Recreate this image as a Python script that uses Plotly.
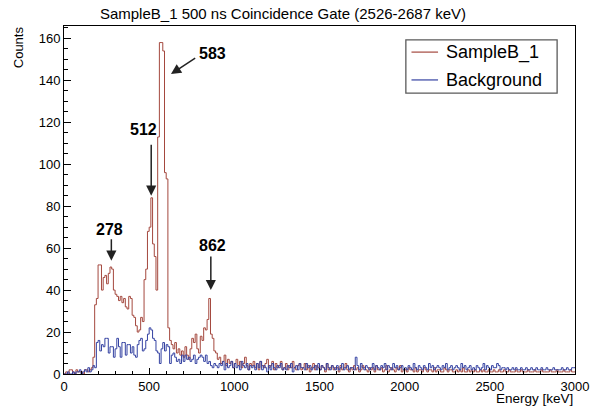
import numpy as np
import plotly.graph_objects as go

# Histogram binning (keV)
bin_width = 10
e_min, e_max = 0, 3000

# Counts per 10 keV bin, 0-3000 keV
sample_counts = [
    0, 1, 0, 2, 2, 1, 0, 2, 1, 1,
    1, 0, 2, 2, 1, 2, 3, 8, 33, 36,
    52, 52, 40, 46, 47, 43, 48, 51, 50, 40,
    38, 37, 35, 37, 34, 36, 32, 31, 37, 36,
    28, 27, 23, 20, 21, 27, 25, 45, 50, 68,
    70, 84, 62, 56, 40, 113, 158, 158, 154, 96,
    93, 22, 16, 14, 12, 15, 10, 12, 9, 11,
    8, 13, 9, 7, 12, 17, 15, 19, 12, 10,
    18, 16, 22, 21, 26, 36, 19, 17, 11, 10,
    7, 8, 5, 6, 9, 4, 7, 5, 6, 3,
    5, 7, 4, 6, 3, 5, 8, 4, 2, 5,
    4, 6, 3, 5, 2, 6, 4, 3, 5, 7,
    3, 4, 6, 2, 5, 3, 4, 6, 2, 3,
    5, 2, 4, 3, 6, 3, 2, 4, 5, 2,
    3, 5, 2, 4, 1, 3, 5, 2, 4, 3,
    2, 4, 3, 1, 5, 2, 3, 4, 2, 3,
    3, 1, 4, 2, 3, 5, 2, 1, 3, 2,
    4, 2, 3, 1, 2, 4, 3, 2, 1, 3,
    2, 3, 1, 4, 2, 2, 3, 1, 2, 4,
    1, 2, 3, 2, 1, 3, 2, 4, 1, 2,
    2, 1, 3, 2, 2, 1, 3, 1, 2, 2,
    1, 3, 2, 1, 2, 2, 1, 3, 1, 2,
    2, 1, 1, 3, 2, 1, 2, 2, 1, 1,
    2, 1, 2, 1, 3, 1, 1, 2, 1, 2,
    1, 2, 1, 1, 2, 1, 2, 1, 1, 2,
    1, 1, 2, 1, 1, 2, 1, 1, 2, 1,
    1, 2, 1, 1, 1, 2, 1, 1, 2, 1,
    1, 1, 2, 1, 1, 1, 2, 1, 1, 1,
    2, 1, 1, 1, 1, 2, 1, 1, 1, 2,
    1, 1, 1, 2, 1, 1, 1, 2, 1, 1,
]

background_counts = [
    0, 0, 1, 0, 0, 1, 0, 1, 1, 2,
    0, 1, 2, 1, 3, 1, 2, 4, 3, 15,
    16, 11, 14, 13, 17, 17, 10, 13, 13, 8,
    12, 17, 13, 8, 15, 15, 9, 14, 14, 10,
    13, 9, 8, 14, 16, 17, 11, 12, 16, 19,
    22, 21, 17, 16, 11, 10, 5, 12, 15, 11,
    14, 13, 5, 9, 10, 8, 6, 7, 5, 9,
    6, 9, 7, 8, 6, 7, 9, 5, 7, 8,
    9, 8, 6, 9, 5, 6, 4, 3, 5, 4,
    3, 5, 4, 6, 2, 5, 3, 4, 6, 3,
    5, 3, 4, 2, 6, 4, 3, 5, 2, 4,
    3, 4, 2, 5, 3, 6, 2, 4, 3, 1,
    4, 2, 5, 3, 2, 4, 3, 5, 2, 3,
    2, 4, 3, 5, 1, 3, 4, 2, 5, 3,
    3, 2, 5, 3, 4, 2, 3, 4, 2, 5,
    2, 4, 3, 2, 5, 3, 2, 4, 3, 2,
    4, 2, 3, 5, 2, 3, 4, 2, 3, 3,
    2, 8, 4, 2, 5, 3, 2, 4, 3, 2,
    3, 5, 2, 4, 3, 2, 4, 3, 5, 2,
    4, 3, 2, 5, 3, 4, 2, 3, 4, 2,
    3, 2, 4, 3, 2, 5, 3, 2, 4, 3,
    2, 4, 3, 2, 5, 3, 4, 2, 3, 4,
    3, 2, 4, 3, 5, 2, 3, 4, 2, 3,
    4, 3, 2, 5, 3, 4, 2, 3, 4, 2,
    3, 2, 4, 3, 2, 3, 5, 2, 4, 3,
    2, 4, 3, 3, 5, 4, 2, 3, 3, 2,
    3, 2, 2, 3, 2, 3, 2, 2, 3, 2,
    2, 3, 2, 2, 3, 2, 2, 3, 2, 2,
    3, 2, 2, 3, 2, 2, 2, 3, 2, 2,
    2, 2, 3, 2, 2, 3, 2, 2, 3, 3,
]

# Peak labels (keV)
peak_labels = ["278", "512", "583", "862"]
peak_energies = [278, 512, 583, 862]

title_text = "SampleB_1 500 ns Coincidence Gate (2526-2687 keV)"
series_names = ["SampleB_1", "Background"]
series_colors = ["#a4483e", "#3442a2"]

edges = np.arange(e_min, e_max + bin_width, bin_width)


def step_trace(counts, name, color):
    y = list(counts) + [counts[-1]]
    return go.Scatter(
        x=edges, y=y, mode="lines", name=name, showlegend=False,
        line=dict(color=color, width=1, shape="hv"),
        hoverinfo="skip",
    )


fig = go.Figure()
fig.add_trace(step_trace(sample_counts, series_names[0], series_colors[0]))
fig.add_trace(step_trace(background_counts, series_names[1], series_colors[1]))

y_max = 1.05 * max(sample_counts)

font_family = "Liberation Sans, Arial, sans-serif"

fig.update_layout(
    width=592, height=406,
    margin=dict(l=64, r=17, t=26, b=32),
    paper_bgcolor="white", plot_bgcolor="white",
    font=dict(family=font_family, size=13, color="black"),
    title=dict(text=title_text, x=0.478, xanchor="center",
               y=1 - 14 / 406, yanchor="middle", yref="container",
               font=dict(size=15, color="black")),
    showlegend=False,
    xaxis=dict(range=[e_min, e_max], dtick=500, tick0=0,
               ticks="inside", ticklen=6, tickwidth=1, tickcolor="black",
               minor=dict(dtick=100, ticks="inside", ticklen=3, tickcolor="black"),
               showline=True, linecolor="black", linewidth=1, mirror=True,
               showgrid=False, zeroline=False, automargin=False,
               tickfont=dict(size=13)),
    yaxis=dict(range=[0, y_max], dtick=20, tick0=0,
               ticks="inside", ticklen=7, tickwidth=1, tickcolor="black",
               minor=dict(dtick=5, ticks="inside", ticklen=4, tickcolor="black"),
               showline=True, linecolor="black", linewidth=1, mirror=True,
               showgrid=False, zeroline=False, automargin=False,
               tickfont=dict(size=13)),
)

# Axis titles (ROOT-style: aligned to the far end of each axis)
fig.add_annotation(text="Counts", xref="paper", yref="paper",
                   x=-0.09, y=0.939, textangle=-90, showarrow=False,
                   xanchor="center", yanchor="middle",
                   font=dict(size=13, color="black"))
fig.add_annotation(text="Energy [keV]", xref="paper", yref="paper",
                   x=1.0, y=-0.071, showarrow=False,
                   xanchor="right", yanchor="middle",
                   font=dict(size=13.5, color="black"))

# Legend box drawn in paper coordinates
legend_box = dict(x0=0.669, x1=0.965, y0=0.807, y1=0.960)
legend_rows_y = [0.925, 0.845]
fig.add_shape(type="rect", xref="paper", yref="paper", **legend_box,
              line=dict(color="#5a5a5a", width=1.3), fillcolor="white", layer="above")
for name, color, ry in zip(series_names, series_colors, legend_rows_y):
    fig.add_shape(type="line", xref="paper", yref="paper",
                  x0=0.680, x1=0.732, y0=ry, y1=ry,
                  line=dict(color=color, width=1.2), layer="above")
    fig.add_annotation(text=name, xref="paper", yref="paper",
                       x=0.743, y=ry, showarrow=False,
                       xanchor="left", yanchor="middle",
                       font=dict(size=18, color="black"))

# Arrow geometry per peak: (tip_x, tip_y, tail_x, tail_y, text_x, text_y)
arrow_geom = {
    "278": (278, 54, 278, 65, 266, 69),
    "512": (512, 85, 512, 110, 466, 116.5),
    "583": (628, 143, 779, 151, 869, 153),
    "862": (862, 40, 862, 56.7, 873, 61.4),
}

for label, energy in zip(peak_labels, peak_energies):
    tx, ty, ax_, ay_, lx, ly = arrow_geom[label]
    fig.add_annotation(x=tx, y=ty, ax=ax_, ay=ay_, xref="x", yref="y",
                       axref="x", ayref="y", text="", showarrow=True,
                       arrowhead=2, arrowsize=1.35, arrowwidth=1.5,
                       arrowcolor="#222222", standoff=0)
    fig.add_annotation(x=lx, y=ly, xref="x", yref="y", text=f"<b>{label}</b>",
                       showarrow=False, xanchor="center", yanchor="middle",
                       font=dict(size=16, color="black"))

fig.write_html("out.html")
